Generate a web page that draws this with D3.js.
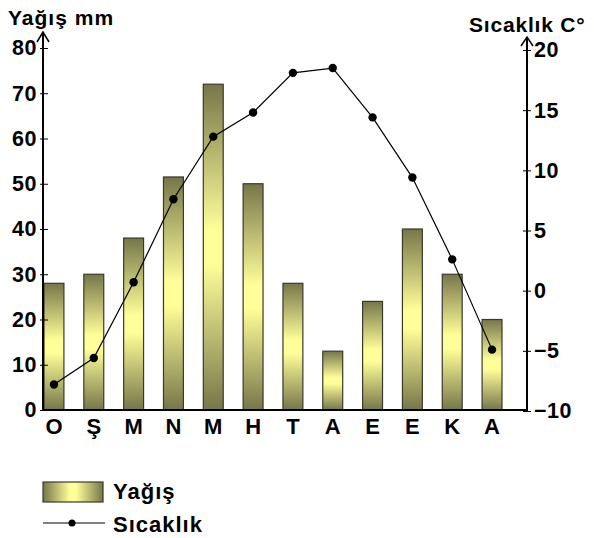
<!DOCTYPE html>
<html>
<head>
<meta charset="utf-8">
<script src="https://cdn.jsdelivr.net/npm/d3@7"></script>
<style>
body { margin: 0; background: #fff; }
text { font-family: "Liberation Sans", Arial, sans-serif; font-weight: bold; fill: #000; }
</style>
</head>
<body>
<svg width="594" height="538"></svg>
<script>
var months = ["O", "Ş", "M", "N", "M", "H", "T", "A", "E", "E", "K", "A"];
var rain = [28, 30, 38, 51.5, 72, 50, 28, 13, 24, 40, 30, 20];
var temp = [-7.8, -5.6, 0.7, 7.6, 12.8, 14.8, 18.1, 18.5, 14.4, 9.4, 2.6, -4.9];
var rainTicks = [0, 10, 20, 30, 40, 50, 60, 70, 80];
var tempTicks = [-10, -5, 0, 5, 10, 15, 20];

var svg = d3.select("svg");
var base = 410, xLeft = 43, xRight = 527;

var x = d3.scaleBand().domain(d3.range(months.length)).range([44, 502]).paddingInner(0.5).paddingOuter(0);
var yRain = d3.scaleLinear().domain([0, 80]).range([base, 48]);
var yTemp = d3.scaleLinear().domain([-10, 20]).range([411, 50]);

var defs = svg.append("defs");
var gv = defs.append("linearGradient").attr("id", "barGrad").attr("x1", 0).attr("y1", 0).attr("x2", 0).attr("y2", 1);
var gh = defs.append("linearGradient").attr("id", "legGrad").attr("x1", 0).attr("y1", 0).attr("x2", 1).attr("y2", 0);
[gv, gh].forEach(function(g) {
    g.append("stop").attr("offset", "0%").attr("stop-color", "#76764a");
    g.append("stop").attr("offset", "45%").attr("stop-color", "#ffff99");
    g.append("stop").attr("offset", "55%").attr("stop-color", "#ffff99");
    g.append("stop").attr("offset", "100%").attr("stop-color", "#76764a");
});

// bars
svg.append("g").selectAll("rect").data(rain).enter().append("rect")
    .attr("x", function(d, i) { return x(i); })
    .attr("y", function(d) { return yRain(d); })
    .attr("width", x.bandwidth())
    .attr("height", function(d) { return base - yRain(d); })
    .attr("fill", "url(#barGrad)")
    .attr("stroke", "#3a3a2a")
    .attr("stroke-width", 1.2);

// left axis
var left = svg.append("g").attr("transform", "translate(" + xLeft + ",0)")
    .call(d3.axisLeft(yRain).tickValues(rainTicks).tickSize(0).tickPadding(6));
left.select(".domain").remove();
left.selectAll(".tick line").attr("x1", -3).attr("x2", 5).attr("stroke", "#000");
left.selectAll(".tick text").attr("x", -6).attr("font-size", 21.5).attr("letter-spacing", 0.5)
    .attr("font-family", null).attr("fill", null);

// right axis
var right = svg.append("g").attr("transform", "translate(" + xRight + ",0)")
    .call(d3.axisRight(yTemp).tickValues(tempTicks).tickSize(0).tickPadding(8));
right.select(".domain").remove();
right.selectAll(".tick line").attr("x1", -4).attr("x2", 4).attr("stroke", "#000");
right.selectAll(".tick text").attr("x", 7).attr("font-size", 21.5).attr("letter-spacing", 0.5)
    .attr("font-family", null).attr("fill", null);

// axis lines with arrows
svg.append("path").attr("d", "M" + xLeft + "," + base + "V32").attr("stroke", "#000").attr("stroke-width", 2).attr("fill", "none");
svg.append("path").attr("d", "M37,42L" + xLeft + ",32L49,42").attr("stroke", "#000").attr("stroke-width", 1.5).attr("fill", "none");
svg.append("path").attr("d", "M" + xRight + "," + base + "V37").attr("stroke", "#000").attr("stroke-width", 2).attr("fill", "none");
svg.append("path").attr("d", "M521,46L" + xRight + ",37L533,46").attr("stroke", "#000").attr("stroke-width", 1.5).attr("fill", "none");
svg.append("line").attr("x1", xLeft - 1).attr("x2", xRight + 1).attr("y1", base).attr("y2", base)
    .attr("stroke", "#000").attr("stroke-width", 2);

// category labels
svg.append("g").selectAll("text").data(months).enter().append("text")
    .attr("x", function(d, i) { return x(i) + x.bandwidth() / 2; })
    .attr("y", 434)
    .attr("text-anchor", "middle")
    .attr("font-size", 22)
    .text(function(d) { return d; });

// temperature line
var line = d3.line()
    .x(function(d, i) { return x(i) + x.bandwidth() / 2; })
    .y(function(d) { return yTemp(d); });
svg.append("path").datum(temp).attr("d", line).attr("fill", "none").attr("stroke", "#000").attr("stroke-width", 1.2);
svg.append("g").selectAll("circle").data(temp).enter().append("circle")
    .attr("cx", function(d, i) { return x(i) + x.bandwidth() / 2; })
    .attr("cy", function(d) { return yTemp(d); })
    .attr("r", 4.2)
    .attr("fill", "#000");

// titles
svg.append("text").attr("x", 8).attr("y", 25).attr("font-size", 21).attr("letter-spacing", 1).text("Yağış mm");
svg.append("text").attr("x", 469).attr("y", 32).attr("font-size", 21).attr("letter-spacing", 0.8).text("Sıcaklık C°");

// legend
svg.append("rect").attr("x", 43).attr("y", 482).attr("width", 60).attr("height", 20)
    .attr("fill", "url(#legGrad)").attr("stroke", "#3a3a2a").attr("stroke-width", 1.2);
svg.append("text").attr("x", 113).attr("y", 499).attr("font-size", 22).attr("letter-spacing", 1).text("Yağış");
svg.append("line").attr("x1", 43).attr("x2", 105).attr("y1", 523).attr("y2", 523).attr("stroke", "#000").attr("stroke-width", 1.2);
svg.append("circle").attr("cx", 72).attr("cy", 523).attr("r", 3.5).attr("fill", "#000");
svg.append("text").attr("x", 113).attr("y", 532).attr("font-size", 22).attr("letter-spacing", 1).text("Sıcaklık");
</script>
</body>
</html>
